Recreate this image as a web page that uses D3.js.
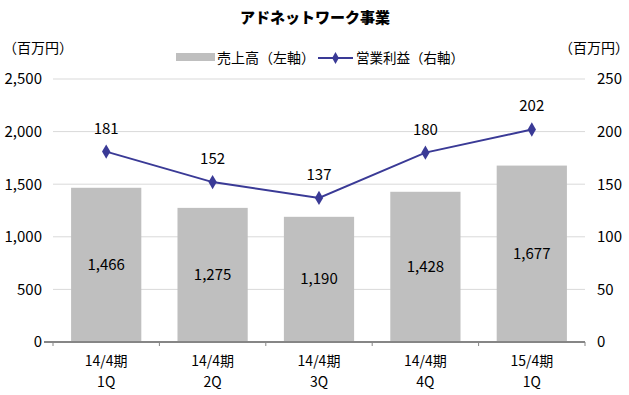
<!DOCTYPE html>
<html><head><meta charset="utf-8">
<script src="https://cdn.jsdelivr.net/npm/d3@7"></script>
<style>
body{margin:0;background:#fff;}
text{font-family:"Liberation Sans Narrow","Noto Sans CJK JP",sans-serif;fill:#000;}
.jp{font-family:"Noto Sans CJK JP",sans-serif;}
</style></head>
<body><svg id="c" width="629" height="395"></svg>
<script>
const categories = [["14/4期","1Q"],["14/4期","2Q"],["14/4期","3Q"],["14/4期","4Q"],["15/4期","1Q"]];
const sales = [1466, 1275, 1190, 1428, 1677];
const profit = [181, 152, 137, 180, 202];
const leftTicks = [0, 500, 1000, 1500, 2000, 2500];
const rightTicks = [0, 50, 100, 150, 200, 250];

const svg = d3.select("#c");
const x0 = 53, x1 = 585, yTop = 79, yBot = 342;
const fmt = d3.format(",");

const x = d3.scaleBand().domain(d3.range(categories.length)).range([x0, x1]).paddingInner(0.34).paddingOuter(0.17);
const xb = d3.scaleBand().domain(d3.range(categories.length)).range([x0, x1]);
const yL = d3.scaleLinear().domain([0, 2500]).range([yBot, yTop]);
const yR = d3.scaleLinear().domain([0, 250]).range([yBot, yTop]);

// title
svg.append("text").attr("class","jp").attr("x", 315).attr("y", 23).attr("text-anchor","middle")
  .attr("font-size", 15).attr("font-weight", 900).text("アドネットワーク事業");

// units
svg.append("text").attr("class","jp").attr("x", 3).attr("y", 53).attr("font-size", 14).text("（百万円）");
svg.append("text").attr("class","jp").attr("x", 629).attr("y", 53).attr("text-anchor","end").attr("font-size", 14).text("（百万円）");

// gridlines
svg.append("g").selectAll("line").data(leftTicks.slice(1)).join("line")
  .attr("x1", x0).attr("x2", x1).attr("y1", d => yL(d)).attr("y2", d => yL(d))
  .attr("stroke", "#d9d9d9").attr("stroke-width", 1);

// left axis labels
const gl = svg.append("g").attr("transform", `translate(${x0},0)`)
  .call(d3.axisLeft(yL).tickValues(leftTicks).tickFormat(fmt).tickSize(0).tickPadding(11));
gl.select(".domain").remove();
gl.selectAll("text").attr("font-size", 15).attr("font-family", "Liberation Sans Narrow, sans-serif");

const gr = svg.append("g").attr("transform", `translate(${x1},0)`)
  .call(d3.axisRight(yR).tickValues(rightTicks).tickSize(0).tickPadding(12));
gr.select(".domain").remove();
gr.selectAll("text").attr("font-size", 15).attr("font-family", "Liberation Sans Narrow, sans-serif");

// bars
svg.append("g").selectAll("rect").data(sales).join("rect")
  .attr("x", (d,i) => x(i)).attr("width", x.bandwidth())
  .attr("y", d => yL(d)).attr("height", d => yBot - yL(d)).attr("fill", "#bfbfbf");

// bar labels
svg.append("g").selectAll("text").data(sales).join("text")
  .attr("x", (d,i) => x(i) + x.bandwidth()/2).attr("y", d => (yL(d) + yBot)/2 + 5)
  .attr("text-anchor","middle").attr("font-size", 15).text(d => fmt(d));

// x axis line
svg.append("line").attr("x1", 44).attr("x2", x1).attr("y1", yBot).attr("y2", yBot)
  .attr("stroke", "#868686").attr("stroke-width", 2);
svg.append("g").selectAll("line").data(d3.range(categories.length + 1)).join("line")
  .attr("x1", i => i < categories.length ? xb(i) : x1).attr("x2", i => i < categories.length ? xb(i) : x1)
  .attr("y1", yBot).attr("y2", yBot + 4).attr("stroke", "#868686").attr("stroke-width", 1);

// category labels
const cl = svg.append("g").selectAll("text").data(categories).join("text")
  .attr("text-anchor","middle").attr("font-size", 14);
cl.append("tspan").attr("x", (d,i) => xb(i) + xb.bandwidth()/2).attr("y", 366).text(d => d[0]);
cl.append("tspan").attr("x", (d,i) => xb(i) + xb.bandwidth()/2).attr("y", 387).text(d => d[1]);

// line
const cx = i => xb(i) + xb.bandwidth()/2;
svg.append("path").datum(profit)
  .attr("d", d3.line().x((d,i) => cx(i)).y(d => yR(d)))
  .attr("fill","none").attr("stroke","#3a3a96").attr("stroke-width", 2);
svg.append("g").selectAll("path").data(profit).join("path")
  .attr("d", d3.symbol(d3.symbolDiamond, 60)())
  .attr("transform", (d,i) => `translate(${cx(i)},${yR(d)})`).attr("fill","#3a3a96");
svg.append("g").selectAll("text").data(profit).join("text")
  .attr("x", (d,i) => cx(i)).attr("y", d => yR(d) - 18).attr("text-anchor","middle")
  .attr("font-size", 15).text(d => d);

// legend
const lg = svg.append("g");
lg.append("rect").attr("x", 176).attr("y", 53).attr("width", 39).attr("height", 8).attr("fill", "#bfbfbf");
lg.append("text").attr("class","jp").attr("x", 217).attr("y", 63).attr("font-size", 14).text("売上高（左軸）");
lg.append("line").attr("x1", 318).attr("x2", 353).attr("y1", 58).attr("y2", 58).attr("stroke","#3a3a96").attr("stroke-width",2);
lg.append("path").attr("d", d3.symbol(d3.symbolDiamond, 40)()).attr("transform","translate(335.5,58)").attr("fill","#3a3a96");
lg.append("text").attr("class","jp").attr("x", 356).attr("y", 63).attr("font-size", 13.5).text("営業利益（右軸）");
</script></body></html>
